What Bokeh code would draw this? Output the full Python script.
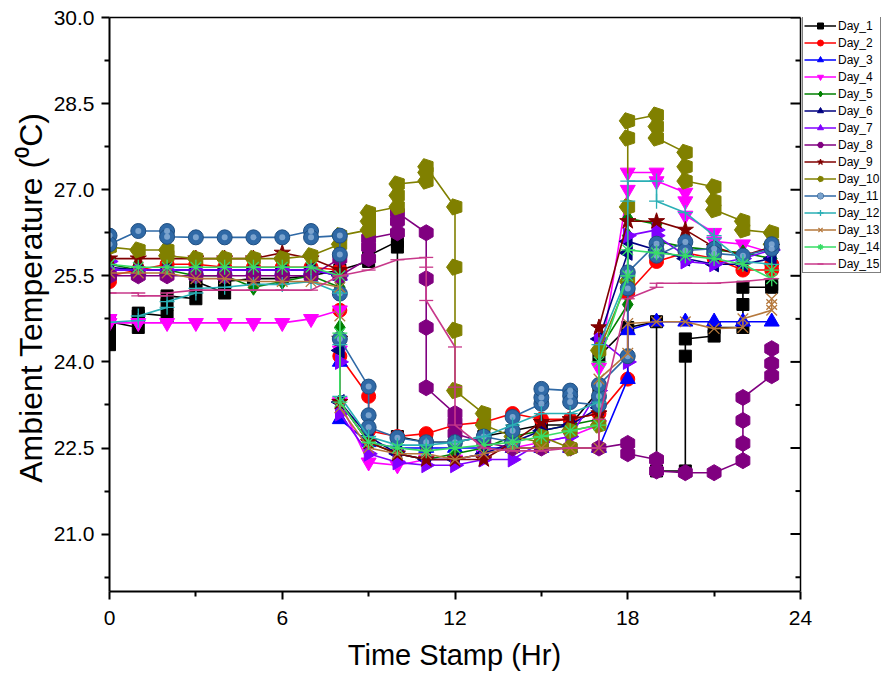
from math import pi
from bokeh.plotting import figure
from bokeh.models import (ColumnDataSource, Legend, LegendItem, FixedTicker, Title,
                          LinearAxis, Range1d, NumeralTickFormatter, CustomJSTickFormatter, Span)
from bokeh.embed import file_html
from bokeh.resources import INLINE

hours = list(range(24))
day_names = ["Day_%d" % i for i in range(1, 16)]

# readings per hour (several readings share the same hour stamp)
day_1 = [[24.3, 24.5, 24.7], [24.6, 24.8, 24.85], [24.8, 25.0, 25.15], [25.1, 25.3, 25.4],
         [25.2, 25.35, 25.4], [25.45], [25.45], [25.5], [25.6], [25.75, 25.85],
         [26.1, 26.0, 22.7], [22.6], [22.6], [22.7], [22.8], [22.9], [22.9], [23.5, 24.1],
         [24.6], [24.7, 22.1], [22.1, 24.1, 24.4], [24.45, 24.6], [24.6, 25.0, 25.3], [25.3, 25.35]]
day_2 = [[25.4, 25.5], [25.6], [25.7], [25.7], [25.65], [25.65], [25.65], [25.65],
         [25.6, 24.9, 24.1], [23.4, 22.8], [22.7], [22.75], [22.9], [22.95], [23.1], [23.0],
         [23.0], [23.1], [23.7, 25.2], [25.75], [25.9], [25.8], [25.6], [25.6, 25.7]]
day_3 = [[25.6], [25.6], [25.6], [25.6], [25.6], [25.6], [25.6], [25.6],
         [25.5, 24.0, 23.0], [22.6], [22.5], [22.5], [22.5], [22.5], [22.5], [22.5],
         [22.5], [22.5], [23.7, 24.55], [24.7], [24.7], [24.7], [24.7], [24.7]]
day_4 = [[24.75, 24.68], [24.68], [24.68], [24.68], [24.68], [24.68], [24.68], [24.75],
         [24.9, 24.2, 23.3], [22.25], [22.2], [22.3], [22.3], [22.4], [22.5], [22.6],
         [22.7], [22.9, 23.9], [27.0, 27.3], [27.3, 27.15], [26.95, 26.8, 26.55],
         [26.25, 26.1], [26.05], [25.9]]
day_5 = [[25.7], [25.6], [25.6], [25.5], [25.5], [25.3], [25.4], [25.5],
         [25.3, 24.6, 23.3], [22.6], [22.4], [22.3], [22.4], [22.5], [22.7], [22.8],
         [22.9], [23.0, 24.2], [25.0, 26.2, 26.5], [26.4, 26.1], [26.0], [25.95], [25.9], [25.8]]
day_6 = [[25.65], [25.6], [25.6], [25.6], [25.6], [25.6], [25.6], [25.6],
         [25.5, 24.2, 23.3], [22.7], [22.4], [22.3], [22.3], [22.4], [22.6], [22.8],
         [22.9], [23.2, 24.4], [25.9, 26.1], [25.95], [25.8], [25.7], [25.7], [25.8]]
day_7 = [[25.75, 25.6], [25.6], [25.6], [25.6], [25.6], [25.6], [25.6], [25.6],
         [25.5, 24.0, 23.1], [22.4], [22.25], [22.2], [22.2], [22.3], [22.3], [22.6],
         [22.7], [23.5, 24.4], [24.0, 26.2], [26.3, 26.2], [25.85, 25.75], [25.7], [25.8], [25.95]]
day_8 = [[25.5], [25.5], [25.5], [25.5], [25.5], [25.5], [25.5], [25.5],
         [25.8, 25.5], [25.8, 26.0, 26.15], [26.25, 26.45, 26.6], [26.25, 25.45, 24.6, 23.55],
         [23.1, 22.95, 22.75], [22.6], [22.5], [22.5], [22.5], [22.5], [22.58, 22.4],
         [22.3, 22.1], [22.07], [22.07], [22.28, 22.58, 22.98, 23.38], [23.76, 23.97, 24.23]]
day_9 = [[25.8], [25.8], [25.8], [25.8], [25.8], [25.8], [25.9], [25.8],
         [25.6, 24.4, 23.3], [22.6], [22.4], [22.3], [22.3], [22.3], [22.6], [22.95],
         [23.0], [23.1, 24.6], [26.45], [26.45], [26.3], [26.0], [25.85], [26.0]]
day_10 = [[26.0], [25.95], [25.95, 25.85], [25.8], [25.8], [25.8], [25.8], [25.85],
          [26.05, 26.2], [26.3, 26.45, 26.6], [26.7, 26.9, 27.1], [27.15, 27.3, 27.4],
          [26.7, 25.65, 24.55, 23.5], [23.1, 22.9], [22.7], [22.6, 22.7], [22.5, 22.8],
          [22.9, 24.2], [25.4, 26.7, 27.9, 28.2], [28.3, 28.1, 27.9], [27.65, 27.4, 27.15],
          [27.05, 26.8, 26.65], [26.45, 26.3], [26.25, 26.05]]
day_11 = [[26.2, 26.05], [26.28], [26.28, 26.18], [26.17], [26.17], [26.17], [26.17],
          [26.28, 26.17], [26.2, 25.87, 25.19, 24.4], [23.57, 23.07, 22.86], [22.68], [22.6],
          [22.6], [22.7], [22.6, 22.8, 23.04], [23.27, 23.38, 23.53], [23.5, 23.41, 23.3],
          [23.25, 23.4, 23.6], [24.1, 25.28, 25.56], [26.06, 25.94, 25.85], [26.09, 25.94],
          [25.97, 25.89], [25.85], [25.97, 26.05]]
day_12 = [[24.69], [24.72, 24.8], [24.95, 25.05], [25.2, 25.28], [25.3], [25.35], [25.35], [25.4],
          [25.2, 24.3, 23.4], [22.7], [22.55], [22.55], [22.6], [22.7], [22.9], [23.1],
          [23.1], [23.3, 24.3], [25.5, 26.8, 27.15], [27.15, 26.8], [26.6], [26.2, 26.15],
          [25.75], [25.7]]
day_13 = [[25.55], [25.55], [25.55], [25.45], [25.45], [25.4], [25.4], [25.4],
          [25.3, 24.8, 23.2], [22.5], [22.4], [22.4], [22.3], [22.4], [22.5], [22.5],
          [22.5], [22.5, 23.7], [24.15, 24.67], [24.7], [24.7], [24.58], [24.6, 24.75],
          [24.9, 25.0, 25.1]]
day_14 = [[25.7], [25.65], [25.65], [25.65], [25.65], [25.65], [25.65], [25.65],
          [25.5, 24.5, 23.3], [22.6], [22.5], [22.45], [22.5], [22.55], [22.6], [22.7],
          [22.8], [22.9, 24.0], [25.5, 25.95], [25.9], [25.85], [25.8], [25.7], [25.45, 25.6]]
day_15 = [[25.2], [25.2, 25.15], [25.15, 25.2], [25.25], [25.25], [25.25], [25.25], [25.25],
          [25.5], [25.6], [25.78], [25.82, 25.65, 25.07], [24.26, 23.56, 22.9], [22.5],
          [22.45], [22.45], [22.5], [22.5, 23.0], [25.1], [25.3, 25.37], [25.37], [25.37],
          [25.4], [25.45]]

days = [day_1, day_2, day_3, day_4, day_5, day_6, day_7, day_8, day_9, day_10,
        day_11, day_12, day_13, day_14, day_15]

x_ticks = [0, 6, 12, 18, 24]
x_minor = [3, 9, 15, 21]
y_ticks = [21.0, 22.5, 24.0, 25.5, 27.0, 28.5, 30.0]
y_minor = [20.25, 21.75, 23.25, 24.75, 26.25, 27.75, 29.25]
X_MIN, X_MAX, Y_MIN, Y_MAX = 0, 24, 20.0, 30.0

colors = ["#000000", "#FF0000", "#0000FF", "#FF00FF", "#008000", "#000080", "#8000FF",
          "#800080", "#800000", "#808000", "#2F69A6", "#2AAFB5", "#B5783C", "#38DD66", "#C8388A"]
markers = ["square", "circle", "triangle", "inverted_triangle", "diamond", "triangle",
           "triangle", "hex", "star", "pentagon", "circle", "cross", "x", "asterisk", "dash"]
angles = [0, 0, 0, 0, 0, pi / 2, -pi / 2, pi / 2, 0, 0, 0, 0, 0, 0, 0]
sizes = [12, 14, 15, 15, 16, 15, 15, 16, 17, 8.5, 15, 15, 15, 15, 14]

FONT = "Liberation Sans"

# layout (pixels): frame spans 109..883 horizontally; the data box ends at x=24 (px 800)
W, H = 883, 684
LEFT, TOP, BOTTOM_PX, BOX_RIGHT = 109, 17, 591, 800
x_end = X_MAX * (W - LEFT) / (BOX_RIGHT - LEFT)
px_per_x = (BOX_RIGHT - LEFT) / (X_MAX - X_MIN)

p = figure(width=W, height=H, output_backend="svg", toolbar_location=None,
           x_range=Range1d(X_MIN, x_end), y_range=Range1d(Y_MIN, Y_MAX),
           min_border_left=LEFT, min_border_right=0, min_border_top=TOP,
           min_border_bottom=H - BOTTOM_PX)
p.background_fill_color = "white"
p.border_fill_color = "white"
p.xgrid.visible = False
p.ygrid.visible = False
p.outline_line_color = None

for ax in (p.xaxis[0], p.yaxis[0]):
    ax.axis_line_width = 2
    ax.major_tick_line_width = 2
    ax.minor_tick_line_width = 2
    ax.major_tick_out = 8
    ax.major_tick_in = 0
    ax.minor_tick_out = 5
    ax.minor_tick_in = 0
    ax.major_label_text_font = FONT
    ax.major_label_text_font_size = "21px"
    ax.major_label_text_color = "black"

p.xaxis.bounds = (X_MIN, X_MAX)
p.xaxis.major_label_standoff = 11
p.yaxis.major_label_standoff = 7
p.xaxis.ticker = FixedTicker(ticks=x_ticks, minor_ticks=x_minor)
p.yaxis.ticker = FixedTicker(ticks=y_ticks, minor_ticks=y_minor)
p.yaxis.formatter = NumeralTickFormatter(format="0.0")

# x-axis title, centred under the 0..24 box (left-aligned with an offset)
X_TITLE = "Time Stamp (Hr)"
x_title_width = 7.389 * 29
x_title = Title(text=X_TITLE, align="left",
                offset=(BOX_RIGHT - LEFT) / 2 - x_title_width / 2,
                text_font=FONT, text_font_size="29px", text_font_style="normal",
                text_color="black", standoff=19)
p.add_layout(x_title, "below")

# y-axis title, its end placed near the top of the box
y_title = Title(text="Ambient Temperature (\u2070C)", align="right", offset=95,
                text_font=FONT, text_font_size="32px", text_font_style="normal",
                text_color="black", standoff=4)
p.add_layout(y_title, "left")

# top edge of the box
top_ax = LinearAxis(ticker=FixedTicker(ticks=[]), formatter=CustomJSTickFormatter(code="return ''"),
                    bounds=(X_MIN, X_MAX))
top_ax.axis_line_width = 1.5
top_ax.major_tick_line_color = None
top_ax.minor_tick_line_color = None
top_ax.major_label_standoff = 0
p.add_layout(top_ax, "above")

items = []
for i, (name, data) in enumerate(zip(day_names, days)):
    xs, ys = [], []
    for h, readings in zip(hours, data):
        for r in readings:
            xs.append(h)
            ys.append(r)
    src = ColumnDataSource(dict(x=xs, y=ys))
    c = colors[i]
    rl = p.line("x", "y", source=src, line_color=c, line_width=1.6)
    rs = []
    m = markers[i]
    if m == "pentagon":
        rs.append(p.ngon(x="x", y="y", radius=sizes[i], radius_units="screen", n=5,
                         angle=pi / 2, fill_color=c, line_color=c, source=src))
    elif m in ("cross", "x", "asterisk", "dash"):
        rs.append(p.scatter("x", "y", source=src, marker=m, size=sizes[i],
                            line_color=c, line_width=1.3))
    elif i == 10:
        rs.append(p.scatter("x", "y", source=src, marker="circle", size=sizes[i],
                            fill_color=c, line_color="#1F4F82", line_width=1))
        rs.append(p.scatter("x", "y", source=src, marker="circle", size=6,
                            fill_color="#8DB2D8", fill_alpha=0.8, line_color=None))
    else:
        rs.append(p.scatter("x", "y", source=src, marker=m, size=sizes[i], angle=angles[i],
                            fill_color=c, line_color=c))
    items.append(LegendItem(label=name, renderers=[rl] + rs))

# right edge of the box at x = 24 with inward ticks
p.add_layout(Span(location=X_MAX, dimension="height", line_color="black", line_width=1.5))
maj_len = 10 / px_per_x
min_len = 5 / px_per_x
p.segment(x0=[X_MAX - maj_len] * len(y_ticks), y0=y_ticks, x1=[X_MAX] * len(y_ticks), y1=y_ticks,
          line_color="black", line_width=2)
p.segment(x0=[X_MAX - min_len] * len(y_minor), y0=y_minor, x1=[X_MAX] * len(y_minor), y1=y_minor,
          line_color="black", line_width=2)

legend = Legend(items=items, location=(BOX_RIGHT + 2 - LEFT, 574 - 256))
legend.label_text_font = FONT
legend.label_text_font_size = "12px"
legend.label_text_color = "black"
legend.glyph_width = 32
legend.glyph_height = 15
legend.spacing = 2
legend.padding = 1
legend.margin = 0
legend.label_standoff = 2
legend.label_height = 15
legend.border_line_color = "black"
legend.border_line_width = 1
legend.background_fill_color = "white"
legend.background_fill_alpha = 1
p.add_layout(legend, "center")

open("out.html", "w").write(file_html(p, INLINE))
